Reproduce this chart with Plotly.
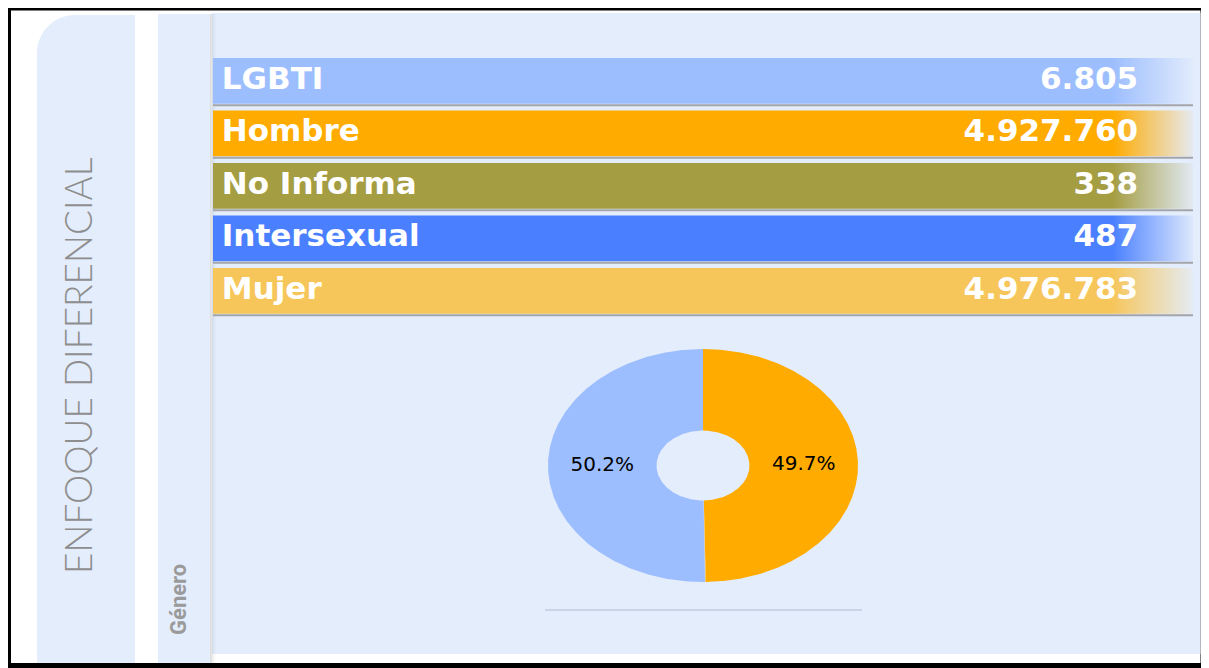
import numpy as np
import plotly.graph_objects as go

W, H = 1209, 668
OFF = 8  # margen por defecto del <body> en la página

categorias = ["LGBTI", "Hombre", "No Informa", "Intersexual", "Mujer"]
valores = [6805, 4927760, 338, 487, 4976783]
colores_fila = ["#9dbefe", "#ffab00", "#a59d42", "#4a80ff", "#f6c65b"]

# orden y colores de la dona (empieza arriba, sentido horario)
orden_pie = ["Hombre", "No Informa", "Intersexual", "LGBTI", "Mujer"]
colores_pie = ["#ffab00", "#a59d42", "#4a80ff", "#f6c65b", "#9dbefe"]

titulo = "ENFOQUE DIFERENCIAL"
subtitulo = "Género"

fondo = "#e4edfc"

FW, FH = W - OFF, H - OFF


def fx(px):
    return (px - OFF) / FW


def fy(px):
    return 1 - (px - OFF) / FH


def rgba(hexc, a):
    h = hexc.lstrip("#")
    return "rgba(%d,%d,%d,%s)" % (int(h[0:2], 16), int(h[2:4], 16), int(h[4:6], 16), a)


fig = go.Figure()

# filas con degradado a la derecha
alto = 0.87
for i, c in enumerate(colores_fila):
    fig.add_trace(go.Scatter(
        x=[0, 1, 1, 0, 0], y=[i, i, i + alto, i + alto, i],
        fill="toself", mode="lines", line=dict(width=0),
        fillgradient=dict(type="horizontal", start=0, stop=1,
                          colorscale=[[0, c], [0.918, c], [1, rgba(c, 0.05)]]),
        hoverinfo="skip", showlegend=False))

fig.add_trace(go.Scatter(
    x=[0.009] * len(categorias), y=[i + alto / 2 for i in range(len(categorias))],
    mode="text", text=categorias, textposition="middle right",
    textfont=dict(family="DejaVu Sans", size=31, color="white", weight="bold"),
    hoverinfo="skip", showlegend=False))

fig.add_trace(go.Scatter(
    x=[0.944] * len(valores), y=[i + alto / 2 for i in range(len(valores))],
    mode="text", customdata=valores, texttemplate="%{customdata:,}",
    textposition="middle left",
    textfont=dict(family="DejaVu Sans", size=31, color="white", weight="bold"),
    hoverinfo="skip", showlegend=False))

# dona (eje propio para que quede elíptica como en la imagen)
dic = dict(zip(categorias, valores))
total = sum(valores)
inicio = 0.0
r_in = 0.3
for cat, col in zip(orden_pie, colores_pie):
    frac = dic[cat] / total
    n = max(3, int(frac * 600))
    th = np.linspace(inicio, inicio + frac, n) * 2 * np.pi
    xs = np.concatenate([np.sin(th), r_in * np.sin(th[::-1])])
    ys = np.concatenate([np.cos(th), r_in * np.cos(th[::-1])])
    fig.add_trace(go.Scatter(
        x=np.append(xs, xs[0]), y=np.append(ys, ys[0]), xaxis="x2", yaxis="y2",
        fill="toself", fillcolor=col, mode="lines", line=dict(width=0),
        hoverinfo="skip", showlegend=False))
    if frac > 0.05:
        mid = (inicio + frac / 2) * 2 * np.pi
        rm = (1 + r_in) / 2
        fig.add_trace(go.Scatter(
            x=[rm * np.sin(mid)], y=[rm * np.cos(mid)], xaxis="x2", yaxis="y2",
            mode="text", text=["%.1f%%" % (frac * 100)],
            textfont=dict(family="DejaVu Sans", size=20, color="black"),
            hoverinfo="skip", showlegend=False))
    inicio += frac

shapes = []
# marco negro
shapes.append(dict(type="rect", xref="paper", yref="paper",
                   x0=fx(7.5), x1=fx(1204), y0=fy(666.5), y1=fy(7),
                   line=dict(color="black", width=7), fillcolor="white", layer="below"))
# panel izquierdo con esquina redondeada
x0, x1, yt, yb = fx(37), fx(135), fy(15), fy(663)
rx, ry = 38 / FW, 38 / FH
k = 0.448
path = ("M %f,%f L %f,%f C %f,%f %f,%f %f,%f L %f,%f L %f,%f Z" %
        (x0, yb, x0, yt - ry, x0, yt - ry * k, x0 + rx * k, yt, x0 + rx, yt,
         x1, yt, x1, yb))
shapes.append(dict(type="path", xref="paper", yref="paper", path=path,
                   fillcolor=fondo, line=dict(width=0), layer="below"))
# area principal
shapes.append(dict(type="rect", xref="paper", yref="paper",
                   x0=fx(212), x1=fx(1200.5), y0=fy(654), y1=fy(13),
                   fillcolor=fondo, line=dict(width=0), layer="below"))
# panel "Género"
shapes.append(dict(type="rect", xref="paper", yref="paper",
                   x0=fx(158), x1=fx(210), y0=fy(663), y1=fy(14),
                   fillcolor=fondo, line=dict(width=0), layer="below"))
# sombra del panel
for j, a in enumerate([0.13, 0.10, 0.07, 0.045, 0.025, 0.012]):
    shapes.append(dict(type="rect", xref="paper", yref="paper",
                       x0=fx(210 + j), x1=fx(211 + j), y0=fy(663), y1=fy(14),
                       fillcolor=rgba("#000000", a), line=dict(width=0), layer="below"))
# separadores
for i in range(len(categorias)):
    shapes.append(dict(type="line", xref="x", yref="y", x0=0, x1=1,
                       y0=i + 0.9, y1=i + 0.9, line=dict(color="#a3a5aa", width=1.8),
                       layer="above"))
# sombra bajo la dona
shapes.append(dict(type="line", xref="paper", yref="paper",
                   x0=fx(545), x1=fx(862), y0=fy(610), y1=fy(610),
                   line=dict(color="rgba(180,192,210,0.55)", width=2), layer="below"))

ejes_ocultos = dict(visible=False, showgrid=False, zeroline=False, fixedrange=True)

fig.update_layout(
    width=FW, height=FH,
    margin=dict(l=0, r=0, t=0, b=0),
    paper_bgcolor="white", plot_bgcolor="rgba(0,0,0,0)",
    separators=",.",
    showlegend=False,
    xaxis=dict(domain=[fx(213), fx(1193)], range=[0, 1], **ejes_ocultos),
    yaxis=dict(domain=[fy(58 + 52.5 * 5), fy(58)], range=[5, 0], **ejes_ocultos),
    xaxis2=dict(domain=[fx(548), fx(858)], range=[-1, 1], anchor="y2", **ejes_ocultos),
    yaxis2=dict(domain=[fy(582), fy(349)], range=[-1, 1], anchor="x2", **ejes_ocultos),
    shapes=shapes,
    annotations=[
        dict(x=fx(77), y=fy(366), xref="paper", yref="paper", text=titulo,
             textangle=-90, showarrow=False, xanchor="center", yanchor="middle",
             font=dict(family="Lato", size=37, color="#8e8e8e", weight=300)),
        dict(x=fx(178), y=fy(600), xref="paper", yref="paper", text=subtitulo,
             textangle=-90, showarrow=False, xanchor="center", yanchor="middle",
             font=dict(family="Roboto", size=22, color="#9a9a9a", weight="bold")),
    ],
)

fig.write_html("out.html")
